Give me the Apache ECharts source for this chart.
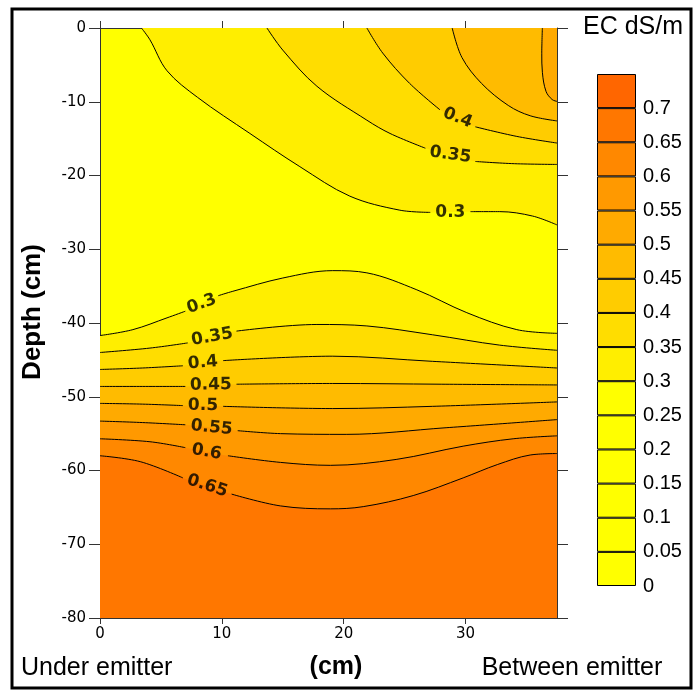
<!DOCTYPE html>
<html><head><meta charset="utf-8">
<script src="https://cdn.jsdelivr.net/npm/echarts@6/dist/echarts.min.js"></script>
<style>html,body{margin:0;padding:0;background:#fff}#c{width:697px;height:690px}</style>
</head><body><div id="c"></div>
<script>
// ---- contour lines: [x (cm), depth (cm)]; null = gap for the label ----
// upper contours (filled towards the surface)
const top030 = [[3.4,0],[4.1,-1.6],[5.5,-5.8],[8.0,-9.4],[12.3,-14.3],[16.4,-18.8],[20.5,-22.8],[24.6,-24.7],[27.1,-25.0],null,[30.4,-24.9],[32.8,-24.9],[35.5,-25.5],[37.5,-26.7]];
const top035 = [[13.7,0],[15.0,-3.0],[17.8,-7.9],[21.9,-12.5],[23.8,-14.3],[26.7,-16.3],null,[30.8,-18.1],[34.0,-18.4],[37.5,-18.5]];
const top040 = [[21.9,0],[23.2,-3.4],[25.4,-7.5],[27.9,-11.1],null,[30.8,-13.4],[34.2,-14.7],[37.5,-15.6]];
const top045 = [[28.9,0],[29.7,-4.0],[31.3,-7.5],[33.5,-10.5],[35.3,-11.9],[37.5,-12.6]];
const top050 = [[36.3,0],[36.25,-3.5],[36.3,-6.0],[36.6,-8.6],[37.1,-9.7],[37.5,-9.95]];
// lower contours (filled towards the bottom)
const bot030 = [[0,-41.7],[2.7,-40.9],[5.5,-39.3],[7.0,-38.4],null,[9.7,-36.3],[10.9,-35.7],[15.0,-33.9],[19.1,-32.9],[21.9,-33.2],[26.0,-35.5],[30.1,-38.6],[34.2,-40.9],[37.5,-41.4]];
const bot035 = [[0,-44.0],[4.1,-43.4],[7.2,-42.7],null,[11.2,-41.1],[17.8,-40.2],[21.9,-40.4],[27.3,-41.6],[32.8,-43.0],[37.5,-43.7]];
const bot040 = [[0,-46.3],[3.5,-46.1],[6.8,-45.8],null,[10.1,-45.1],[19.1,-44.5],[27.3,-45.2],[37.5,-46.1]];
const bot045 = [[0,-48.6],[3.5,-48.6],[7.0,-48.6],null,[11.2,-48.3],[19.1,-48.2],[28.0,-48.3],[37.5,-48.4]];
const bot050 = [[0,-50.9],[3.5,-51.0],[6.8,-51.2],null,[10.1,-51.3],[19.1,-51.6],[27.3,-51.3],[37.5,-50.7]];
const bot055 = [[0,-53.3],[3.5,-53.5],[7.0,-53.8],null,[11.3,-54.6],[14.8,-55.0],[20.2,-55.1],[28.4,-54.2],[37.5,-53.1]];
const bot060 = [[0,-55.7],[4.1,-56.1],[7.0,-56.9],null,[10.5,-58.0],[14.8,-58.9],[18.9,-59.3],[24.3,-58.5],[29.8,-56.7],[33.9,-55.7],[37.5,-55.3]];
const bot065 = [[0,-58.0],[3.3,-58.8],[6.8,-61.0],null,[10.8,-63.2],[14.8,-64.8],[18.9,-65.2],[21.6,-64.9],[25.7,-63.4],[29.8,-61.0],[32.6,-59.2],[35.3,-57.9],[37.5,-57.7]];

// contour labels: [x, depth, text, rotation deg]
const contourLabels = [
  [28.75,-25.0,'0.3',0],
  [28.75,-17.2,'0.35',-8],
  [29.35,-12.2,'0.4',-22],
  [8.35,-37.4,'0.3',20],
  [9.2,-41.9,'0.35',10],
  [8.45,-45.4,'0.4',5],
  [9.1,-48.4,'0.45',1],
  [8.45,-51.2,'0.5',-1],
  [9.15,-54.2,'0.55',-6],
  [8.75,-57.5,'0.6',-10],
  [8.8,-62.1,'0.65',-18]
];

// colour scale (EC dS/m)
const cbEdges = [0,0.05,0.1,0.15,0.2,0.25,0.3,0.35,0.4,0.45,0.5,0.55,0.6,0.65,0.7,0.75];
const cbColors = ['#FFFF00','#FFFF00','#FFFF00','#FFFF00','#FFFF00','#FFFF00','#FFEE00','#FFDD00','#FFCC00','#FFBB00','#FFAA00','#FF9900','#FF8800','#FF7700','#FF6600'];

const xTicks = [0,10,20,30];
const bgColor = '#FFFF00';

// ---------------------------------------------------------------
const topSet = [[top030,'#FFEE00'],[top035,'#FFDD00'],[top040,'#FFCC00'],[top045,'#FFBB00'],[top050,'#FFAA00']];
const botSet = [[bot030,'#FFEE00'],[bot035,'#FFDD00'],[bot040,'#FFCC00'],[bot045,'#FFBB00'],[bot050,'#FFAA00'],[bot055,'#FF9900'],[bot060,'#FF8800'],[bot065,'#FF7700']];
const SM = 0.35;
function areaS(d, color, origin){
  return {type:'line', xAxisIndex:0, yAxisIndex:0, data:d.filter(p=>p!==null), smooth:SM, symbol:'none', silent:true, z:1,
    lineStyle:{width:0, opacity:0}, areaStyle:{color:color, opacity:1, origin:origin}, animation:false};
}
function lineS(d){
  return {type:'line', xAxisIndex:0, yAxisIndex:0, data:d.map(p=>p===null?['-','-']:p), smooth:SM, symbol:'none', silent:true, z:3,
    connectNulls:false, lineStyle:{color:'#000', width:1}, animation:false};
}
const series = [];
topSet.forEach(([d,c])=>series.push(areaS(d,c,'end')));
botSet.forEach(([d,c])=>series.push(areaS(d,c,'start')));
topSet.concat(botSet).forEach(([d])=>series.push(lineS(d)));
series.push({type:'scatter', xAxisIndex:0, yAxisIndex:0, symbolSize:1, z:5, silent:true,
  itemStyle:{color:'transparent'},
  label:{show:true, position:'inside', color:'#000', fontFamily:'DejaVu Sans', fontWeight:'bold', fontSize:17},
  data:contourLabels.map(l=>({value:[l[0],l[1]], label:{formatter:l[2], rotate:l[3]}}))});
cbColors.forEach((c,i)=>series.push({type:'bar', xAxisIndex:2, yAxisIndex:2, stack:'cb', barWidth:'100%', silent:true,
  data:[+(cbEdges[i+1]-cbEdges[i]).toFixed(4)], itemStyle:{color:c, borderColor:'#000', borderWidth:1}}));

const axCol = '#333';
const tickFont = {fontFamily:'DejaVu Sans', fontSize:15, color:'#000'};
const option = {
  animation:false,
  grid:[
    {left:100, top:28, width:457, height:590, show:true, backgroundColor:bgColor, borderWidth:0},
    {left:597, top:74, width:39, height:512}
  ],
  xAxis:[
    {gridIndex:0, type:'value', min:0, max:37.5, interval:10, position:'bottom',
      axisLine:{show:true, onZero:false, lineStyle:{color:axCol}},
      axisTick:{show:true, length:6, customValues:xTicks, lineStyle:{color:axCol}},
      axisLabel:Object.assign({margin:9, customValues:xTicks}, tickFont), splitLine:{show:false}},
    {gridIndex:0, type:'value', min:0, max:37.5, interval:10, position:'top',
      axisLine:{show:true, onZero:false, lineStyle:{color:axCol}},
      axisTick:{show:true, length:7, customValues:xTicks, lineStyle:{color:axCol}},
      axisLabel:{show:false}, splitLine:{show:false}},
    {gridIndex:1, type:'category', data:['EC'], show:false}
  ],
  yAxis:[
    {gridIndex:0, type:'value', min:-80, max:0, interval:10, position:'left',
      axisLine:{show:true, onZero:false, lineStyle:{color:axCol}},
      axisTick:{show:true, length:11, lineStyle:{color:axCol}},
      axisLabel:Object.assign({margin:14}, tickFont), splitLine:{show:false}},
    {gridIndex:0, type:'value', min:-80, max:0, interval:10, position:'right',
      axisLine:{show:true, onZero:false, lineStyle:{color:axCol}},
      axisTick:{show:true, length:11, lineStyle:{color:axCol}},
      axisLabel:{show:false}, splitLine:{show:false}},
    {gridIndex:1, type:'value', min:0, max:0.75, interval:0.05, position:'right',
      axisLine:{show:false}, axisTick:{show:false}, splitLine:{show:false},
      axisLabel:{margin:7, fontFamily:'Liberation Sans', fontSize:20, color:'#000', showMaxLabel:false}}
  ],
  graphic:[
    {type:'rect', shape:{x:12, y:9, width:679, height:679}, style:{fill:'none', stroke:'#000', lineWidth:3}, silent:true},
    {type:'text', x:633, y:27, style:{text:'EC dS/m', font:'25px "Liberation Sans"', fill:'#000', textAlign:'center', textVerticalAlign:'middle'}},
    {type:'text', x:21, y:668, style:{text:'Under emitter', font:'25px "Liberation Sans"', fill:'#000', textAlign:'left', textVerticalAlign:'middle'}},
    {type:'text', x:572, y:668, style:{text:'Between emitter', font:'25px "Liberation Sans"', fill:'#000', textAlign:'center', textVerticalAlign:'middle'}},
    {type:'text', x:336, y:667, style:{text:'(cm)', font:'bold 25px "Liberation Sans"', fill:'#000', textAlign:'center', textVerticalAlign:'middle'}},
    {type:'text', x:33, y:312, rotation:Math.PI/2, style:{text:'Depth (cm)', font:'bold 26px "Liberation Sans"', fill:'#000', textAlign:'center', textVerticalAlign:'middle'}}
  ],
  series:series
};
const chart = echarts.init(document.getElementById('c'), null, {renderer:'canvas'});
chart.setOption(option);
</script>
</body></html>
